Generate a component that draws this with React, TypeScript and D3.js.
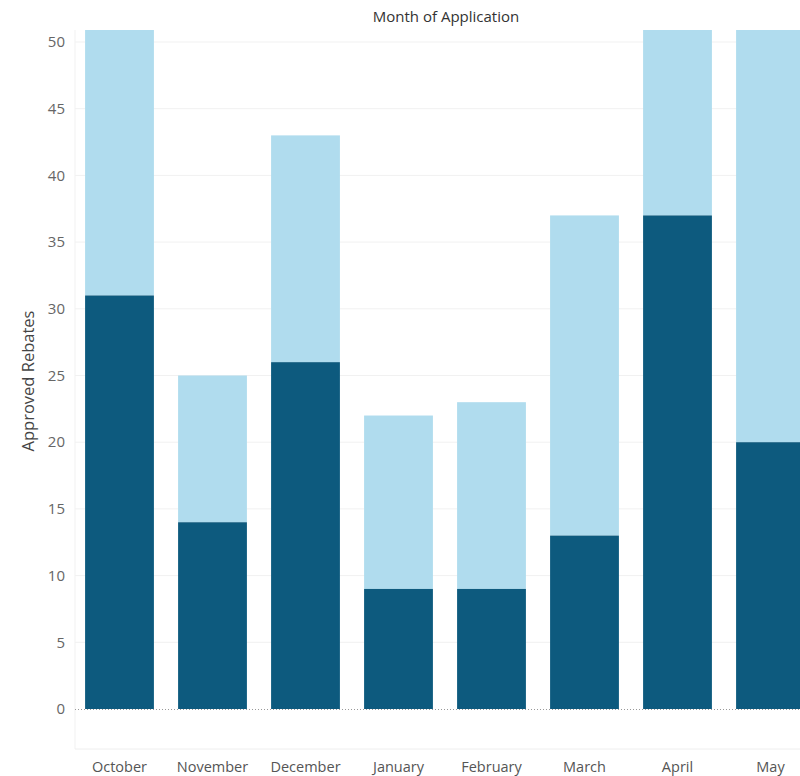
import React from "react";
import * as d3 from "d3";

const months = ["October", "November", "December", "January", "February", "March", "April", "May"];
const approvedDark = [31, 14, 26, 9, 9, 13, 37, 20];
const approvedLight = [27, 11, 17, 13, 14, 24, 22, 38];
const yTicks = [0, 5, 10, 15, 20, 25, 30, 35, 40, 45, 50];

const W = 800;
const H = 776;
const left = 75;
const step = 93;
const yTop = 30;
const yZero = 709;

export default function App() {
  const x = d3
    .scaleBand<string>()
    .domain(months)
    .range([left - 2, left - 2 + step * months.length])
    .paddingInner(0.26)
    .paddingOuter(0.13);
  const y = d3.scaleLinear().domain([0, 10]).range([yZero, yZero - 133.4]);
  const stack = months.map((m, i) => ({ m, d: approvedDark[i], l: approvedLight[i] }));
  const font = "'Open Sans', 'Noto Sans', sans-serif";
  return (
    <div style={{ position: "fixed", left: 0, top: 0 }}>
      <svg width={W} height={H} style={{ display: "block", background: "#fff" }} fontFamily={font}>
        <defs>
          <clipPath id="plot">
            <rect x={left} y={yTop} width={W - left} height={yZero - yTop + 1} />
          </clipPath>
        </defs>
        <text x={446} y={22} textAnchor="middle" fontSize={15} fontWeight={500} fill="#333">
          Month of Application
        </text>
        {yTicks.map((t) => (
          <g key={t}>
            {t > 0 && (
              <line x1={left} x2={W} y1={y(t)} y2={y(t)} stroke="#f1f1f1" strokeWidth={1} />
            )}
            <text x={65} y={y(t)} dy="0.35em" textAnchor="end" fontSize={15} fill="#666">
              {t}
            </text>
          </g>
        ))}
        <line x1={left} x2={left} y1={yTop} y2={749} stroke="#f1f1f1" />
        <line x1={left} x2={W} y1={749} y2={749} stroke="#eeeeee" />
        <g clipPath="url(#plot)">
          {stack.map((s) => (
            <g key={s.m}>
              <rect
                x={x(s.m)}
                width={x.bandwidth()}
                y={y(s.d + s.l)}
                height={y(s.d) - y(s.d + s.l)}
                fill="#b0dcee"
              />
              <rect
                x={x(s.m)}
                width={x.bandwidth()}
                y={y(s.d)}
                height={y(0) - y(s.d)}
                fill="#0d5a7e"
              />
            </g>
          ))}
        </g>
        <line x1={left} x2={W} y1={yZero + 0.5} y2={yZero + 0.5} stroke="#999" strokeDasharray="1,2" />
        {months.map((m) => (
          <text
            key={m}
            x={(x(m) as number) + x.bandwidth() / 2}
            y={772}
            textAnchor="middle"
            fontSize={14.5}
            fill="#555"
          >
            {m}
          </text>
        ))}
        <text
          transform={`translate(34,381) rotate(-90)`}
          textAnchor="middle"
          fontSize={16.5}
          fontWeight={500}
          fill="#444"
        >
          Approved Rebates
        </text>
      </svg>
    </div>
  );
}
